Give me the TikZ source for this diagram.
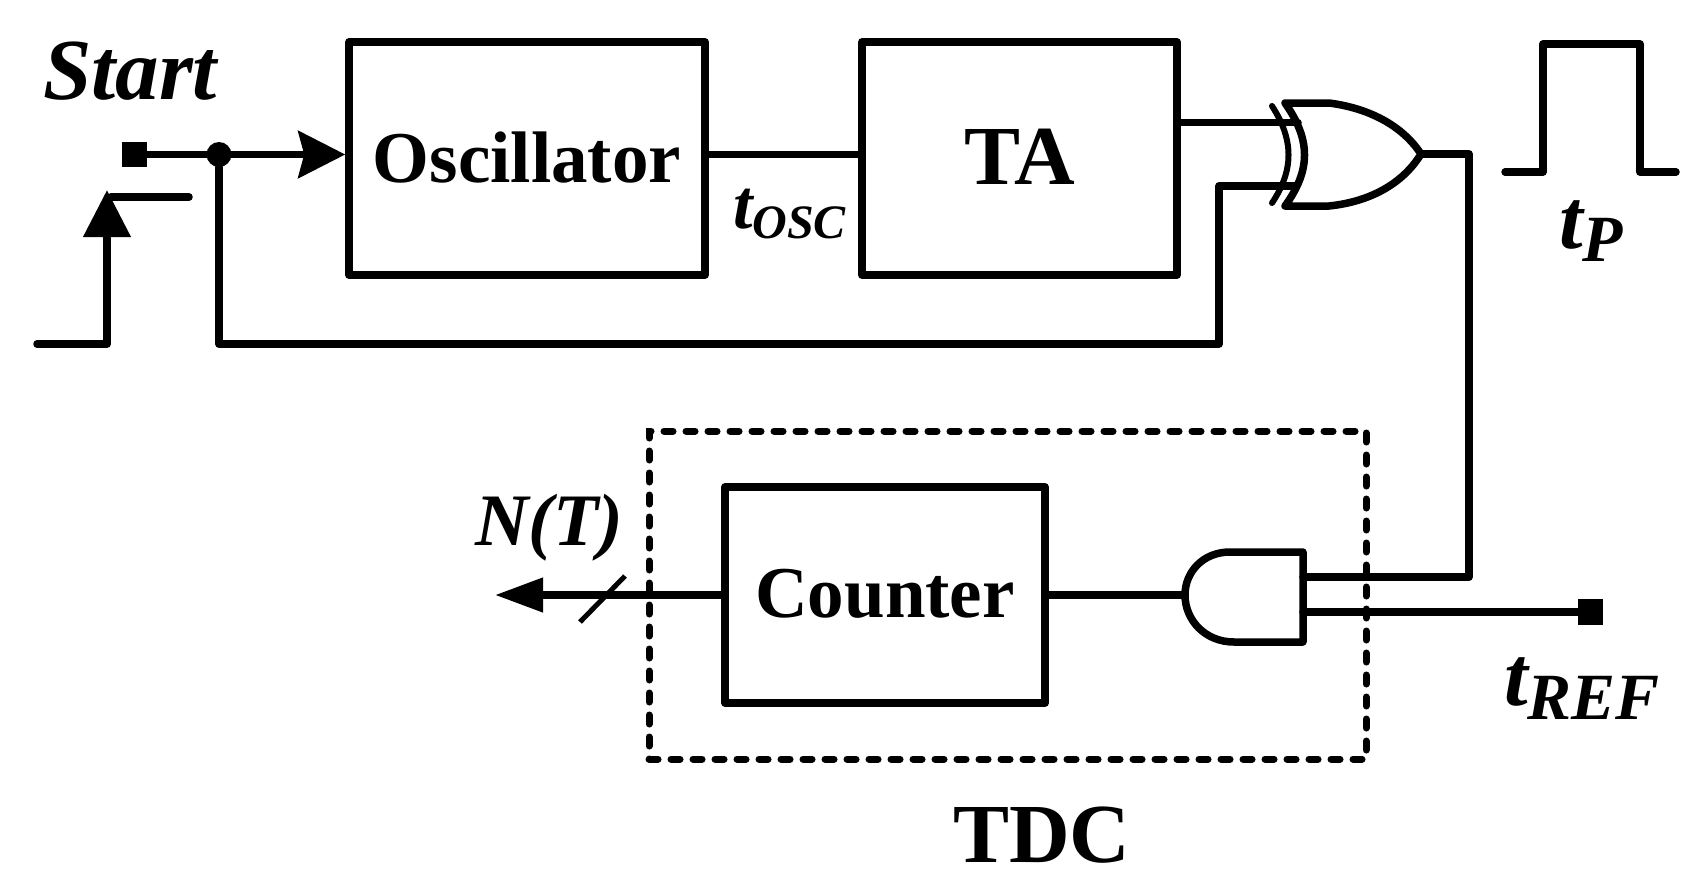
\documentclass[tikz,border=0pt]{standalone}
\usepackage{fontspec}
\setmainfont{Liberation Serif}
\usetikzlibrary{arrows.meta,calc}
\newcommand{\fsz}[1]{\fontsize{#1}{#1}\selectfont}
\newcommand{\subtxt}[4]{{\fsz{#1}\bfseries\itshape t}\raisebox{#3}{\fsz{#2}\bfseries\itshape #4}}
\tikzset{
  wire/.style={line width=7.5pt,line join=round,line cap=round},
  thinwire/.style={line width=6pt,line cap=round},
  box/.style={draw,line width=7.5pt,line join=round,rectangle,inner sep=0pt,font=\bfseries},
  term/.style={fill,rectangle,inner sep=0pt,draw=none},
  junction/.style={fill,circle,inner sep=0pt,minimum size=25pt,draw=none},
  bigtip/.style={-{Stealth[length=#1,width=47pt,inset=6pt]}},
  lbl/.style={anchor=base west,inner sep=0pt,outer sep=0pt},
}
\begin{document}
\begin{tikzpicture}[x=1pt,y=-1pt]
\useasboundingbox (0,0) rectangle (1702,895);
\fill[white] (0,0) rectangle (1702,895);
% blocks
\node[box,minimum width=356pt,minimum height=233pt,text depth=2pt,font=\bfseries\fsz{73}] (osc) at (527,158.5) {Oscillator};
\node[box,minimum width=315pt,minimum height=233pt,text depth=3pt,font=\bfseries\fsz{84}] (ta) at (1019.5,158.5) {TA};
\node[box,minimum width=320pt,minimum height=216pt,text depth=3pt,font=\bfseries\fsz{73}] (cnt) at (885,595) {Counter};
% dashed TDC frame
\node[draw,rectangle,minimum width=717pt,minimum height=328pt,line width=7pt,line cap=round,dash pattern=on 9pt off 13pt,inner sep=0pt] (tdc) at (1007.5,595) {};
% terminals
\node[term,minimum width=25pt,minimum height=25pt] (start) at (134.5,154.5) {};
\node[junction] (dot) at (219,154.5) {};
\node[term,minimum width=25pt,minimum height=26pt] (ref) at (1590.5,612) {};
% gate ports
\coordinate (xorA) at (1298,122.7);
\coordinate (xorB) at (1295,186);
\coordinate (xorO) at (1421,154);
\coordinate (andO) at (1185,595);
\coordinate (andA) at (1303,577);
\coordinate (andB) at (1303,612);
% free ends
\coordinate (nt) at (495,595);
\coordinate (fb1) at (219,344);
\coordinate (fb2) at (1219,344);
\coordinate (fb3) at (1219,186);
\coordinate (oc) at (1469,154);
% XOR gate
\draw[wire] (1285,103) -- (1329,103) .. controls (1368,108) and (1402,125) .. (xorO) .. controls (1402,185) and (1368,202) .. (1329,206) -- (1285,206) .. controls (1311,170) and (1311,140) .. cycle;
\draw[thinwire] (1272,106) .. controls (1294,140) and (1294,170) .. (1272,203);
% AND gate
\draw[wire] (andA |- 0,552) -- (1230,552) .. controls (1203,552) and (1185,572) .. (andO) .. controls (1185,620) and (1205,642) .. (1234,642) -- (andA |- 0,642) -- cycle;
% connectors
\draw[wire,bigtip=47pt] (start) -- (dot) -- (osc.west |- dot);
\draw[wire] (osc.east |- dot) -- (ta.west |- dot);
\draw[wire] (ta.east |- xorA) -- (xorA);
\draw[wire] (dot) -- (fb1) -- (fb2) -- (fb3) -- (xorB);
\draw[wire] (xorO) -- (oc) -- (oc |- andA) -- (andA);
\draw[wire] (ref) -- (andB);
\draw[wire] (andO) -- (cnt.east);
\draw[wire,-{Stealth[length=48pt,width=33pt,inset=0pt]}] (cnt.west) -- (nt);
\draw[line width=5pt] (580,622) -- (625,576);
% waveforms
\coordinate (s1) at (37,344);
\coordinate (s2) at (107,344);
\coordinate (s3) at (107,190);
\coordinate (s4) at (111,197);
\coordinate (s5) at (189,197);
\draw[wire,-{Stealth[length=47pt,width=46pt,inset=0pt]}] (s1) -- (s2) -- (s3);
\draw[wire] (s4) -- (s5);
\coordinate (p1) at (1505,172);
\coordinate (p2) at (1543,172);
\coordinate (p3) at (1543,44);
\coordinate (p4) at (1640,44);
\coordinate (p5) at (1640,172);
\coordinate (p6) at (1676,172);
\draw[wire] (p1) -- (p2) -- (p3) -- (p4) -- (p5) -- (p6);
% labels
\node[lbl] (lstart) at (43,99) {\fsz{87}\bfseries\itshape Start};
\node[lbl] (ltosc) at (733,228) {\subtxt{70}{48}{-10pt}{OSC}};
\node[lbl] (ltp) at (1559,248) {\subtxt{85}{66}{-13pt}{P}};
\node[lbl] (ltref) at (1504,705) {\subtxt{85}{66}{-14pt}{REF}};
\node[lbl] (lnt) at (475,545) {\fsz{74}\bfseries\itshape N(T)};
\node[lbl] (ltdc) at (953,862) {\fsz{84}\bfseries TDC};
\end{tikzpicture}
\end{document}
